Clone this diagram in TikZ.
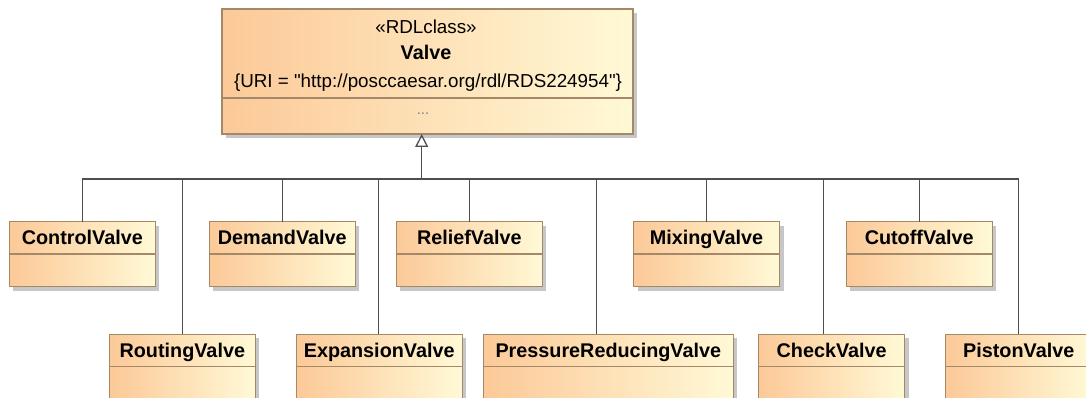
\documentclass[tikz,border=0pt]{standalone}
\usepackage{fontspec}
\setmainfont{Liberation Sans}
\usetikzlibrary{arrows.meta,shadows,positioning}
\definecolor{clsorange}{RGB}{252,201,152}
\definecolor{clsyellow}{RGB}{255,249,214}
\definecolor{clsborder}{RGB}{164,136,104}
\definecolor{linegray}{RGB}{78,78,78}
\begin{document}
\begin{tikzpicture}[x=1pt,y=-1pt,
    compart/.style={draw=clsborder, line width=1.4pt, left color=clsorange, right color=clsyellow,
        inner sep=0pt, outer sep=0pt, minimum width=146pt, minimum height=32.4pt,
        general shadow={fill=black!22, shadow xshift=4pt, shadow yshift=-4pt}},
    clsname/.style={compart, font=\fontsize{19.8}{23}\selectfont\bfseries, text height=16pt, text depth=2pt},
    clsbody/.style={compart, below=0pt of #1},
    plain/.style={font=\fontsize{18.8}{22}\selectfont, inner sep=0pt},
    genline/.style={draw=linegray, line width=1.3pt}]

    \useasboundingbox (0,0) rectangle (1086,398);
    \clip (0,0) rectangle (1086,398);

    % Valve (superclass)
    \node[compart, minimum width=411pt, minimum height=89pt] (valve) at (427.5,53.5) {};
    \node[clsbody=valve, minimum width=411pt, minimum height=36pt] (valveb) {};
    \node[plain] (stereo) at (426,27) {«RDLclass»};
    \node[plain, font=\fontsize{19.8}{23}\selectfont\bfseries] (vname) at (426,52) {Valve};
    \node[plain] (uri) at (428,83) {\{URI = \textquotedbl http://posccaesar.org/rdl/RDS224954\textquotedbl\}};
    \node[plain, font=\fontsize{15}{18}\selectfont, text=gray] (dots) at (423,114) {...};

    % upper row
    \node[clsname] (ctrl) at (82.3,237.9) {ControlValve};
    \node[clsbody=ctrl] (ctrlb) {};
    \node[clsname] (dem) at (282.3,237.9) {DemandValve};
    \node[clsbody=dem] (demb) {};
    \node[clsname] (rel) at (469.3,237.9) {ReliefValve};
    \node[clsbody=rel] (relb) {};
    \node[clsname] (mix) at (706.5,237.9) {MixingValve};
    \node[clsbody=mix] (mixb) {};
    \node[clsname] (cut) at (919.2,237.9) {CutoffValve};
    \node[clsbody=cut] (cutb) {};

    % lower row
    \node[clsname] (rout) at (182.3,350.5) {RoutingValve};
    \node[clsbody=rout] (routb) {};
    \node[clsname, minimum width=166pt] (exp) at (379.2,350.5) {ExpansionValve};
    \node[clsbody=exp, minimum width=166pt] (expb) {};
    \node[clsname, minimum width=250pt] (prv) at (608.3,350.5) {PressureReducingValve};
    \node[clsbody=prv, minimum width=250pt] (prvb) {};
    \node[clsname] (chk) at (831.7,350.5) {CheckValve};
    \node[clsbody=chk] (chkb) {};
    \node[clsname] (pist) at (1018.7,350.5) {PistonValve};
    \node[clsbody=pist] (pistb) {};

    % generalization tree
    \coordinate (fork) at (421.7,179);
    \draw[genline] (ctrl.north) |- (fork);
    \draw[genline] (rout.north) |- (fork);
    \draw[genline] (dem.north) |- (fork);
    \draw[genline] ([xshift=-0.9pt]exp.north) |- (fork);
    \draw[genline] (rel.north) |- (fork);
    \draw[genline] ([xshift=-12pt]prv.north) |- (fork);
    \draw[genline] (mix.north) |- (fork);
    \draw[genline] ([xshift=-8.4pt]chk.north) |- (fork);
    \draw[genline] (cut.north) |- (fork);
    \draw[genline] (pist.north) |- (fork);
    \draw[genline, -{Triangle[open, length=13pt, width=13pt]}] (fork) -- (fork |- valveb.south);

\end{tikzpicture}
\end{document}
